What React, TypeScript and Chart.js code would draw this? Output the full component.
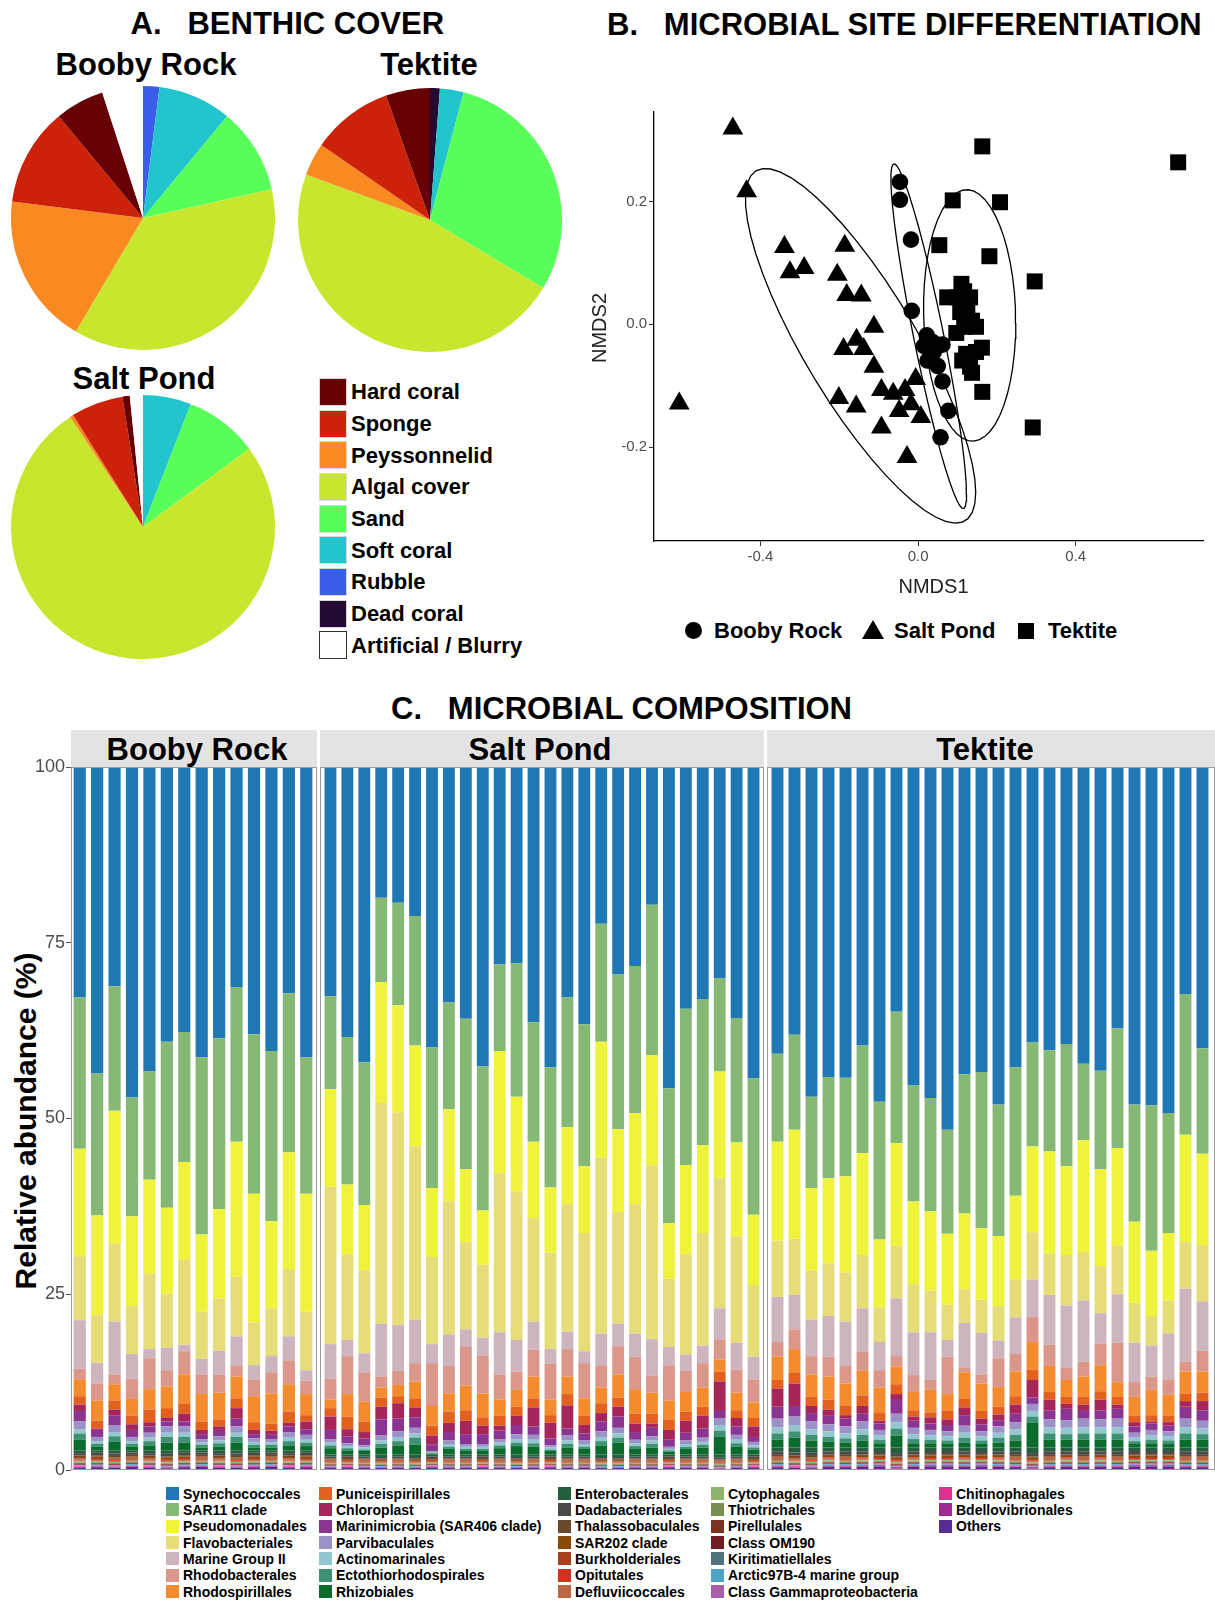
import React, { useEffect, useRef } from 'react';
import { Chart, registerables } from 'chart.js';

Chart.register(...registerables);

const FONT = '"Liberation Sans", Arial, Helvetica, sans-serif';
Chart.defaults.font.family = FONT;

// ---------------- Panel A : benthic cover ----------------
const benthicLegend = ['Hard coral', 'Sponge', 'Peyssonnelid', 'Algal cover', 'Sand', 'Soft coral', 'Rubble', 'Dead coral', 'Artificial / Blurry'];
const benthicColors = ['#660004', '#CC220A', '#F98A22', '#C8E62D', '#58FF58', '#22C5CC', '#395FEA', '#220A30', '#FFFFFF'];
// slice order, clockwise from 12 o'clock
const pieSliceOrder = ['Dead coral', 'Rubble', 'Soft coral', 'Sand', 'Algal cover', 'Peyssonnelid', 'Sponge', 'Hard coral', 'Artificial / Blurry'];
const boobyRockCover = [0, 2, 9, 10.5, 37, 18.5, 12, 6, 5];
const tektiteCover = [1.2, 0, 2.9, 29.5, 47, 4, 10, 5.4, 0];
const saltPondCover = [0, 0, 5.9, 9, 75.8, 0.4, 6.4, 0.9, 1.6];

// ---------------- Panel B : NMDS ----------------
const boobyRockNMDS = [
  [-0.046, 0.232], [-0.046, 0.203], [-0.018, 0.138], [-0.016, 0.022], [0.022, -0.018], [0.037, -0.029], [0.062, -0.033],
  [0.024, -0.059], [0.05, -0.068], [0.062, -0.093], [0.077, -0.141], [0.057, -0.184], [0.04, -0.045], [0.015, -0.035],
];
const saltPondNMDS = [
  [-0.47, 0.319], [-0.435, 0.217], [-0.606, -0.129], [-0.339, 0.126], [-0.325, 0.085], [-0.289, 0.092], [-0.186, 0.128],
  [-0.205, 0.081], [-0.181, 0.048], [-0.144, 0.047], [-0.112, -0.004], [-0.156, -0.025], [-0.189, -0.04], [-0.138, -0.04],
  [-0.112, -0.069], [-0.093, -0.107], [-0.063, -0.113], [-0.033, -0.107], [-0.006, -0.089], [-0.201, -0.12], [-0.157, -0.134],
  [-0.048, -0.141], [-0.018, -0.13], [0.007, -0.151], [-0.093, -0.168], [-0.028, -0.216],
];
const tektiteNMDS = [
  [0.163, 0.29], [0.66, 0.264], [0.088, 0.202], [0.208, 0.199], [0.054, 0.129], [0.181, 0.111], [0.296, 0.07],
  [0.11, 0.066], [0.074, 0.044], [0.102, 0.044], [0.132, 0.044], [0.117, 0.054], [0.107, 0.02], [0.137, 0.006],
  [0.147, -0.004], [0.117, -0.004], [0.097, -0.014], [0.162, -0.038], [0.122, -0.048], [0.147, -0.045], [0.112, -0.059],
  [0.132, -0.069], [0.137, -0.079], [0.163, -0.11], [0.291, -0.168], [0.125, 0.025],
];
const nmds1Ticks = [-0.4, 0, 0.4];
const nmds2Ticks = [-0.2, 0, 0.2];

// ---------------- Panel C : microbial composition ----------------
const facetNames = ['Booby Rock', 'Salt Pond', 'Tektite'];
const facetSizes = [14, 26, 26];
const abundanceTicks = [0, 25, 50, 75, 100];

const seriesNames = [
  'Synechococcales', 'SAR11 clade', 'Pseudomonadales', 'Flavobacteriales', 'Marine Group II', 'Rhodobacterales', 'Rhodospirillales',
  'Puniceispirillales', 'Chloroplast', 'Marinimicrobia (SAR406 clade)', 'Parvibaculales', 'Actinomarinales', 'Ectothiorhodospirales', 'Rhizobiales',
  'Enterobacterales', 'Dadabacteriales', 'Thalassobaculales', 'SAR202 clade', 'Burkholderiales', 'Opitutales', 'Defluviicoccales',
  'Cytophagales', 'Thiotrichales', 'Pirellulales', 'Class OM190', 'Kiritimatiellales', 'Arctic97B-4 marine group', 'Class Gammaproteobacteria',
  'Chitinophagales', 'Bdellovibrionales', 'Others',
];
const seriesColors = [
  '#1F78B4', '#86B875', '#F0F33C', '#E6DC78', '#CDB4BE', '#DA978A', '#F48B2F',
  '#E2611F', '#A7265A', '#8B3592', '#9D92C8', '#93C6CF', '#3E9273', '#0A6B2C',
  '#245E3D', '#4A4A4A', '#6A4A2B', '#8A4A0A', '#A8411B', '#D13322', '#BD6642',
  '#8EB46B', '#77904F', '#7B3222', '#701C22', '#4F737D', '#4DA3C1', '#A65DAA',
  '#E22F8E', '#A1298F', '#582D92',
];

// values per sample: 14 Booby Rock, 26 Salt Pond, 26 Tektite
const synechococcales = [
  32.8, 43.6, 31.2, 47.0, 43.3, 39.1, 37.7, 41.3, 38.6, 31.3, 38.0, 40.4, 32.2, 41.3,
  32.6, 38.4, 42.0, 18.6, 19.3, 21.2, 39.9, 33.5, 35.8, 42.6, 28.1, 27.9, 36.3, 42.7, 32.8, 36.6, 22.3, 29.5, 28.3, 19.6, 45.7, 34.4, 33.0, 30.1, 35.8, 44.3,
  40.8, 38.1, 46.9, 44.1, 44.2, 39.6, 47.6, 34.8, 45.3, 47.1, 51.6, 43.7, 43.4, 48.0, 42.7, 39.2, 40.3, 39.4, 42.2, 43.2, 37.2, 48.0, 48.1, 49.2, 32.3, 40.0,
];
const sar11 = [
  21.5, 20.2, 17.7, 16.9, 15.4, 23.6, 18.5, 25.2, 24.3, 22.0, 22.7, 24.2, 22.6, 19.4,
  13.2, 21.0, 20.3, 12.0, 14.6, 18.4, 20.0, 15.2, 21.4, 20.5, 12.3, 19.0, 17.0, 17.1, 18.4, 20.2, 16.8, 22.0, 20.9, 21.4, 19.2, 22.2, 20.8, 13.2, 17.7, 19.4,
  12.5, 13.5, 13.0, 14.4, 14.0, 15.3, 19.6, 18.7, 16.5, 16.1, 14.8, 19.8, 22.2, 18.7, 18.3, 14.8, 14.4, 17.4, 10.9, 14.0, 17.0, 16.7, 20.7, 17.1, 20.0, 15.0,
];
const pseudomonadales = [
  15.3, 14.2, 18.9, 12.8, 13.4, 12.2, 13.9, 11.0, 12.7, 19.2, 18.3, 12.4, 16.6, 16.8,
  13.9, 9.9, 9.3, 17.2, 15.2, 14.4, 9.8, 13.1, 10.4, 7.7, 17.4, 13.5, 10.9, 9.3, 11.0, 9.5, 16.5, 11.8, 13.0, 15.7, 7.9, 12.7, 12.5, 15.2, 13.4, 10.0,
  14.1, 15.5, 11.7, 12.1, 13.7, 14.5, 9.7, 14.6, 11.8, 11.3, 10.1, 10.8, 10.2, 10.0, 11.9, 12.2, 14.5, 12.6, 15.9, 13.8, 13.9, 11.5, 9.3, 9.6, 15.3, 13.0,
];
const flavobacteriales = [
  9.1, 6.8, 11.1, 6.8, 10.7, 7.7, 12.1, 6.7, 7.4, 8.5, 6.1, 6.8, 9.6, 8.3,
  22.4, 12.2, 11.8, 31.4, 30.3, 24.6, 12.4, 18.9, 12.4, 10.4, 22.6, 21.1, 14.7, 13.7, 18.1, 16.8, 25.0, 15.9, 18.4, 24.7, 9.7, 14.3, 16.0, 18.5, 15.1, 10.2,
  8.0, 8.0, 7.0, 7.5, 7.0, 7.6, 4.9, 7.5, 6.8, 5.9, 5.0, 4.8, 4.7, 4.9, 5.4, 6.7, 5.9, 7.2, 6.9, 6.7, 6.9, 5.7, 4.2, 4.7, 6.6, 8.0,
];
const marineGroupII = [
  6.9, 2.9, 7.5, 3.5, 1.3, 3.2, 0.9, 2.2, 3.4, 4.2, 2.0, 2.3, 3.4, 1.5,
  4.9, 2.3, 2.8, 7.5, 6.5, 6.2, 2.7, 4.5, 2.4, 2.5, 6.0, 4.5, 4.0, 2.1, 2.5, 1.7, 4.5, 3.2, 3.3, 5.2, 2.6, 2.3, 2.5, 4.5, 3.8, 3.2,
  6.4, 4.9, 5.2, 5.8, 6.3, 6.2, 4.0, 8.2, 6.1, 6.8, 2.4, 6.3, 5.9, 2.5, 5.2, 5.3, 7.1, 8.8, 8.7, 4.3, 6.9, 5.6, 4.4, 6.5, 10.4, 7.0,
];
const rhodobacterales = [
  1.5, 2.4, 1.4, 2.9, 4.4, 2.3, 3.3, 2.8, 2.6, 1.5, 2.4, 3.0, 3.4, 1.9,
  3.0, 5.4, 4.1, 1.6, 2.0, 2.6, 6.1, 3.9, 5.6, 5.4, 3.6, 2.6, 3.8, 5.1, 3.9, 5.0, 3.2, 4.0, 4.6, 2.4, 5.0, 3.0, 3.5, 2.8, 3.3, 3.3,
  2.1, 2.8, 2.6, 2.8, 2.5, 2.7, 2.5, 1.5, 2.4, 1.4, 5.3, 0.7, 1.3, 4.1, 2.5, 3.6, 3.0, 1.8, 2.1, 3.1, 5.6, 2.1, 1.9, 2.2, 1.4, 3.0,
];
const rhodospirillales = [
  2.4, 2.9, 2.3, 2.4, 2.9, 3.1, 4.2, 3.9, 3.8, 3.1, 3.7, 4.3, 3.9, 3.0,
  1.2, 3.2, 2.8, 1.4, 1.6, 2.4, 2.8, 2.6, 3.5, 3.4, 2.3, 2.4, 3.1, 2.2, 2.5, 2.5, 2.2, 3.3, 3.5, 3.0, 2.7, 2.8, 2.7, 1.7, 2.5, 2.2,
  3.3, 3.4, 3.2, 3.3, 3.2, 3.5, 3.6, 2.5, 2.6, 3.2, 2.4, 3.8, 3.9, 2.8, 3.5, 3.9, 3.7, 2.4, 2.9, 3.7, 2.1, 2.7, 3.6, 3.0, 3.1, 3.0,
];
const puniceispirillales = [
  1.2, 1.1, 1.3, 1.2, 1.8, 1.3, 1.4, 1.2, 1.0, 1.4, 1.1, 1.0, 1.6, 0.9,
  1.2, 1.8, 1.5, 1.3, 1.0, 1.3, 1.4, 1.6, 1.5, 1.2, 1.4, 1.3, 1.3, 1.1, 1.6, 1.3, 1.4, 1.3, 1.4, 1.4, 1.5, 1.3, 1.3, 1.4, 1.1, 1.2,
  1.2, 1.5, 1.3, 1.4, 1.3, 1.5, 1.1, 1.4, 0.9, 0.7, 1.2, 1.2, 1.1, 1.1, 1.2, 1.5, 1.1, 1.0, 1.1, 1.2, 1.1, 0.9, 0.9, 0.9, 1.1, 1.2,
];
const chloroplast = [
  0.9, 0.2, 0.8, 0.8, 0.6, 0.6, 1.1, 0.6, 0.5, 1.5, 0.6, 0.6, 0.5, 1.1,
  1.9, 1.0, 0.9, 1.8, 2.2, 1.4, 1.3, 1.3, 1.9, 1.3, 0.7, 1.3, 2.7, 2.2, 3.3, 1.2, 1.2, 1.4, 1.2, 0.6, 1.4, 1.7, 1.8, 4.2, 1.2, 1.5,
  2.6, 3.2, 1.0, 0.9, 0.5, 1.1, 0.4, 0.7, 0.6, 0.9, 0.8, 1.1, 0.8, 0.9, 1.3, 2.5, 1.5, 0.7, 0.9, 1.5, 0.6, 0.6, 0.3, 0.5, 0.8, 1.3,
];
const marinimicrobia = [
  1.5, 1.0, 1.4, 1.0, 0.9, 0.7, 0.7, 0.7, 0.9, 1.1, 0.6, 0.6, 0.8, 0.8,
  1.3, 1.0, 1.0, 2.3, 1.8, 1.5, 0.9, 1.2, 1.4, 1.3, 1.2, 1.3, 1.2, 1.0, 1.0, 1.0, 1.4, 1.6, 1.1, 1.2, 1.0, 1.1, 1.3, 1.0, 1.2, 0.7,
  1.7, 1.5, 1.2, 1.2, 1.1, 1.1, 0.9, 2.1, 1.0, 0.9, 0.9, 1.5, 1.0, 0.8, 1.2, 0.9, 1.3, 1.6, 1.1, 1.3, 1.4, 0.9, 0.9, 0.8, 1.7, 1.5,
];
const parvibaculales = [
  1.1, 0.6, 1.0, 0.6, 0.7, 0.9, 0.9, 0.5, 0.6, 0.9, 0.5, 0.5, 0.8, 0.7,
  0.5, 0.4, 0.3, 0.7, 0.8, 0.8, 0.15, 0.5, 0.4, 0.4, 0.5, 0.7, 0.7, 0.3, 0.7, 0.5, 0.8, 0.8, 0.5, 0.6, 0.3, 0.5, 0.6, 1.0, 0.7, 0.5,
  1.2, 1.2, 1.1, 1.0, 1.0, 1.1, 0.8, 1.2, 0.9, 0.8, 0.7, 1.0, 0.7, 0.9, 1.0, 1.0, 1.1, 1.1, 1.2, 1.1, 1.2, 0.7, 0.8, 0.7, 1.2, 1.1,
];
const actinomarinales = [
  0.6, 0.4, 0.6, 0.4, 0.5, 0.6, 0.6, 0.3, 0.4, 0.6, 0.4, 0.3, 0.5, 0.4,
  0.4, 0.3, 0.3, 0.5, 0.6, 0.6, 0.1, 0.4, 0.3, 0.3, 0.4, 0.5, 0.5, 0.3, 0.5, 0.4, 0.6, 0.6, 0.4, 0.5, 0.2, 0.4, 0.4, 0.8, 0.5, 0.3,
  0.9, 0.9, 0.8, 0.8, 0.7, 0.8, 0.6, 0.9, 0.7, 0.6, 0.6, 0.7, 0.6, 0.7, 0.8, 0.8, 0.9, 0.9, 0.9, 0.9, 0.9, 0.5, 0.6, 0.6, 0.9, 0.8,
];
const ectothiorhodospirales = [
  0.9, 0.4, 0.8, 0.4, 0.6, 0.8, 0.8, 0.4, 0.5, 0.8, 0.4, 0.4, 0.6, 0.5,
  0.4, 0.3, 0.2, 0.5, 0.6, 1.0, 0.1, 0.3, 0.3, 0.3, 0.4, 0.5, 0.5, 0.2, 0.5, 0.3, 0.6, 0.7, 0.4, 0.5, 0.2, 0.3, 0.4, 0.9, 0.5, 0.3,
  0.9, 0.9, 0.8, 0.7, 0.6, 0.8, 0.5, 1.0, 0.6, 0.5, 0.5, 0.7, 0.5, 0.7, 0.8, 0.9, 0.9, 0.8, 0.9, 0.9, 0.9, 0.4, 0.5, 0.5, 0.9, 0.8,
];
const rhizobiales = [
  1.5, 0.5, 1.2, 0.5, 0.7, 1.1, 1.1, 0.4, 0.5, 1.1, 0.4, 0.4, 0.7, 0.6,
  0.9, 0.6, 0.5, 1.0, 1.3, 1.4, 0.15, 0.8, 0.5, 0.5, 0.9, 1.2, 1.1, 0.5, 1.0, 0.8, 1.3, 1.7, 0.8, 1.0, 0.4, 0.8, 1.0, 2.5, 1.1, 0.7,
  1.1, 1.4, 1.0, 0.8, 0.7, 1.0, 0.6, 1.7, 0.6, 0.6, 0.5, 0.7, 0.5, 0.7, 1.0, 3.5, 1.1, 1.1, 1.1, 1.1, 1.1, 0.5, 0.6, 0.5, 1.1, 1.1,
];
const enterobacterales = [
  0.4, 0.35, 0.45, 0.3, 0.4, 0.5, 0.35, 0.3, 0.4, 0.45, 0.35, 0.3, 0.4, 0.35,
  0.3, 0.25, 0.3, 0.35, 0.3, 0.35, 0.25, 0.3, 0.3, 0.25, 0.3, 0.35, 0.3, 0.25, 0.3, 0.3, 0.35, 0.35, 0.3, 0.3, 0.25, 0.3, 0.3, 0.45, 0.3, 0.25,
  0.6, 0.7, 0.75, 0.55, 0.6, 0.55, 0.5, 0.8, 0.55, 0.5, 0.5, 0.55, 0.5, 0.55, 0.6, 0.8, 0.6, 0.55, 0.6, 0.55, 0.6, 0.5, 0.5, 0.5, 0.6, 0.6,
];
const dadabacteriales = [
  0.35, 0.35, 0.35, 0.35, 0.35, 0.35, 0.35, 0.35, 0.35, 0.35, 0.35, 0.35, 0.35, 0.35,
  0.25, 0.25, 0.25, 0.25, 0.25, 0.25, 0.25, 0.25, 0.25, 0.25, 0.25, 0.25, 0.25, 0.25, 0.25, 0.25, 0.25, 0.25, 0.25, 0.25, 0.25, 0.25, 0.25, 0.25, 0.25, 0.25,
  0.45, 0.45, 0.45, 0.45, 0.45, 0.45, 0.45, 0.45, 0.45, 0.45, 0.45, 0.45, 0.45, 0.45, 0.45, 0.45, 0.45, 0.45, 0.45, 0.45, 0.45, 0.45, 0.45, 0.45, 0.45, 0.45,
];
const thalassobaculales = [
  0.2, 0.2, 0.2, 0.2, 0.2, 0.2, 0.2, 0.2, 0.2, 0.2, 0.2, 0.2, 0.2, 0.2,
  0.15, 0.15, 0.15, 0.15, 0.15, 0.15, 0.15, 0.15, 0.15, 0.15, 0.15, 0.15, 0.15, 0.15, 0.15, 0.15, 0.15, 0.15, 0.15, 0.15, 0.15, 0.15, 0.15, 0.15, 0.15, 0.15,
  0.2, 0.2, 0.2, 0.2, 0.2, 0.2, 0.2, 0.2, 0.2, 0.2, 0.2, 0.2, 0.2, 0.2, 0.2, 0.2, 0.2, 0.2, 0.2, 0.2, 0.2, 0.2, 0.2, 0.2, 0.2, 0.2,
];
const sar202 = [
  0.2, 0.2, 0.2, 0.2, 0.2, 0.2, 0.2, 0.2, 0.2, 0.2, 0.2, 0.2, 0.2, 0.2,
  0.15, 0.15, 0.15, 0.15, 0.15, 0.15, 0.15, 0.15, 0.15, 0.15, 0.15, 0.15, 0.15, 0.15, 0.15, 0.15, 0.15, 0.15, 0.15, 0.15, 0.15, 0.15, 0.15, 0.15, 0.15, 0.15,
  0.2, 0.2, 0.2, 0.2, 0.2, 0.2, 0.2, 0.2, 0.2, 0.2, 0.2, 0.2, 0.2, 0.2, 0.2, 0.2, 0.2, 0.2, 0.2, 0.2, 0.2, 0.2, 0.2, 0.2, 0.2, 0.2,
];
const burkholderiales = [
  0.15, 0.15, 0.15, 0.15, 0.15, 0.15, 0.15, 0.15, 0.15, 0.15, 0.15, 0.15, 0.15, 0.15,
  0.12, 0.12, 0.12, 0.12, 0.12, 0.12, 0.12, 0.12, 0.12, 0.12, 0.12, 0.12, 0.12, 0.12, 0.12, 0.12, 0.12, 0.12, 0.12, 0.12, 0.12, 0.12, 0.12, 0.12, 0.12, 0.12,
  0.15, 0.15, 0.15, 0.15, 0.15, 0.15, 0.15, 0.15, 0.15, 0.15, 0.15, 0.15, 0.15, 0.15, 0.15, 0.15, 0.15, 0.15, 0.15, 0.15, 0.15, 0.15, 0.15, 0.15, 0.15, 0.15,
];
const opitutales = [
  0.15, 0.15, 0.15, 0.15, 0.15, 0.15, 0.15, 0.15, 0.15, 0.15, 0.15, 0.15, 0.15, 0.15,
  0.12, 0.12, 0.12, 0.12, 0.12, 0.12, 0.12, 0.12, 0.12, 0.12, 0.12, 0.12, 0.12, 0.12, 0.12, 0.12, 0.12, 0.12, 0.12, 0.12, 0.12, 0.12, 0.12, 0.12, 0.12, 0.12,
  0.15, 0.15, 0.15, 0.15, 0.15, 0.15, 0.15, 0.15, 0.15, 0.15, 0.15, 0.15, 0.15, 0.15, 0.15, 0.15, 0.15, 0.15, 0.15, 0.15, 0.15, 0.15, 0.15, 0.15, 0.15, 0.15,
];
const defluviicoccales = [
  0.15, 0.15, 0.15, 0.15, 0.15, 0.15, 0.15, 0.15, 0.15, 0.15, 0.15, 0.15, 0.15, 0.15,
  0.12, 0.12, 0.12, 0.12, 0.12, 0.12, 0.12, 0.12, 0.12, 0.12, 0.12, 0.12, 0.12, 0.12, 0.12, 0.12, 0.12, 0.12, 0.12, 0.12, 0.12, 0.12, 0.12, 0.12, 0.12, 0.12,
  0.15, 0.15, 0.15, 0.15, 0.15, 0.15, 0.15, 0.15, 0.15, 0.15, 0.15, 0.15, 0.15, 0.15, 0.15, 0.15, 0.15, 0.15, 0.15, 0.15, 0.15, 0.15, 0.15, 0.15, 0.15, 0.15,
];
const cytophagales = [
  0.15, 0.15, 0.15, 0.15, 0.15, 0.15, 0.15, 0.15, 0.15, 0.15, 0.15, 0.15, 0.15, 0.15,
  0.12, 0.12, 0.12, 0.12, 0.12, 0.12, 0.12, 0.12, 0.12, 0.12, 0.12, 0.12, 0.12, 0.12, 0.12, 0.12, 0.12, 0.12, 0.12, 0.12, 0.12, 0.12, 0.12, 0.12, 0.12, 0.12,
  0.15, 0.15, 0.15, 0.15, 0.15, 0.15, 0.15, 0.15, 0.15, 0.15, 0.15, 0.15, 0.15, 0.15, 0.15, 0.15, 0.15, 0.15, 0.15, 0.15, 0.15, 0.15, 0.15, 0.15, 0.15, 0.15,
];
const thiotrichales = [
  0.1, 0.1, 0.1, 0.1, 0.1, 0.1, 0.1, 0.1, 0.1, 0.1, 0.1, 0.1, 0.1, 0.1,
  0.08, 0.08, 0.08, 0.08, 0.08, 0.08, 0.08, 0.08, 0.08, 0.08, 0.08, 0.08, 0.08, 0.08, 0.08, 0.08, 0.08, 0.08, 0.08, 0.08, 0.08, 0.08, 0.08, 0.08, 0.08, 0.08,
  0.1, 0.1, 0.1, 0.1, 0.1, 0.1, 0.1, 0.1, 0.1, 0.1, 0.1, 0.1, 0.1, 0.1, 0.1, 0.1, 0.1, 0.1, 0.1, 0.1, 0.1, 0.1, 0.1, 0.1, 0.1, 0.1,
];
const pirellulales = [
  0.1, 0.1, 0.1, 0.1, 0.1, 0.1, 0.1, 0.1, 0.1, 0.1, 0.1, 0.1, 0.1, 0.1,
  0.08, 0.08, 0.08, 0.08, 0.08, 0.08, 0.08, 0.08, 0.08, 0.08, 0.08, 0.08, 0.08, 0.08, 0.08, 0.08, 0.08, 0.08, 0.08, 0.08, 0.08, 0.08, 0.08, 0.08, 0.08, 0.08,
  0.1, 0.1, 0.1, 0.1, 0.1, 0.1, 0.1, 0.1, 0.1, 0.1, 0.1, 0.1, 0.1, 0.1, 0.1, 0.1, 0.1, 0.1, 0.1, 0.1, 0.1, 0.1, 0.1, 0.1, 0.1, 0.1,
];
const classOM190 = [
  0.1, 0.1, 0.1, 0.1, 0.1, 0.1, 0.1, 0.1, 0.1, 0.1, 0.1, 0.1, 0.1, 0.1,
  0.08, 0.08, 0.08, 0.08, 0.08, 0.08, 0.08, 0.08, 0.08, 0.08, 0.08, 0.08, 0.08, 0.08, 0.08, 0.08, 0.08, 0.08, 0.08, 0.08, 0.08, 0.08, 0.08, 0.08, 0.08, 0.08,
  0.1, 0.1, 0.1, 0.1, 0.1, 0.1, 0.1, 0.1, 0.1, 0.1, 0.1, 0.1, 0.1, 0.1, 0.1, 0.1, 0.1, 0.1, 0.1, 0.1, 0.1, 0.1, 0.1, 0.1, 0.1, 0.1,
];
const kiritimatiellales = [
  0.08, 0.08, 0.08, 0.08, 0.08, 0.08, 0.08, 0.08, 0.08, 0.08, 0.08, 0.08, 0.08, 0.08,
  0.06, 0.06, 0.06, 0.06, 0.06, 0.06, 0.06, 0.06, 0.06, 0.06, 0.06, 0.06, 0.06, 0.06, 0.06, 0.06, 0.06, 0.06, 0.06, 0.06, 0.06, 0.06, 0.06, 0.06, 0.06, 0.06,
  0.08, 0.08, 0.08, 0.08, 0.08, 0.08, 0.08, 0.08, 0.08, 0.08, 0.08, 0.08, 0.08, 0.08, 0.08, 0.08, 0.08, 0.08, 0.08, 0.08, 0.08, 0.08, 0.08, 0.08, 0.08, 0.08,
];
const arctic97B4 = [
  0.08, 0.08, 0.08, 0.08, 0.08, 0.08, 0.08, 0.08, 0.08, 0.08, 0.08, 0.08, 0.08, 0.08,
  0.06, 0.06, 0.06, 0.06, 0.06, 0.06, 0.06, 0.06, 0.06, 0.06, 0.06, 0.06, 0.06, 0.06, 0.06, 0.06, 0.06, 0.06, 0.06, 0.06, 0.06, 0.06, 0.06, 0.06, 0.06, 0.06,
  0.08, 0.08, 0.08, 0.08, 0.08, 0.08, 0.08, 0.08, 0.08, 0.08, 0.08, 0.08, 0.08, 0.08, 0.08, 0.08, 0.08, 0.08, 0.08, 0.08, 0.08, 0.08, 0.08, 0.08, 0.08, 0.08,
];
const gammaproteobacteria = [
  0.08, 0.08, 0.08, 0.08, 0.08, 0.08, 0.08, 0.08, 0.08, 0.08, 0.08, 0.08, 0.08, 0.08,
  0.06, 0.06, 0.06, 0.06, 0.06, 0.06, 0.06, 0.06, 0.06, 0.06, 0.06, 0.06, 0.06, 0.06, 0.06, 0.06, 0.06, 0.06, 0.06, 0.06, 0.06, 0.06, 0.06, 0.06, 0.06, 0.06,
  0.08, 0.08, 0.08, 0.08, 0.08, 0.08, 0.08, 0.08, 0.08, 0.08, 0.08, 0.08, 0.08, 0.08, 0.08, 0.08, 0.08, 0.08, 0.08, 0.08, 0.08, 0.08, 0.08, 0.08, 0.08, 0.08,
];
const chitinophagales = [
  0.08, 0.08, 0.08, 0.08, 0.08, 0.08, 0.08, 0.08, 0.08, 0.08, 0.08, 0.08, 0.08, 0.08,
  0.06, 0.06, 0.06, 0.06, 0.06, 0.06, 0.06, 0.06, 0.06, 0.06, 0.06, 0.06, 0.06, 0.06, 0.06, 0.06, 0.06, 0.06, 0.06, 0.06, 0.06, 0.06, 0.06, 0.06, 0.06, 0.06,
  0.12, 0.12, 0.12, 0.12, 0.12, 0.12, 0.12, 0.12, 0.12, 0.12, 0.12, 0.12, 0.12, 0.12, 0.12, 0.12, 0.12, 0.12, 0.12, 0.12, 0.12, 0.12, 0.12, 0.12, 0.12, 0.12,
];
const bdellovibrionales = [
  0.08, 0.08, 0.08, 0.08, 0.08, 0.08, 0.08, 0.08, 0.08, 0.08, 0.08, 0.08, 0.08, 0.08,
  0.06, 0.06, 0.06, 0.06, 0.06, 0.06, 0.06, 0.06, 0.06, 0.06, 0.06, 0.06, 0.06, 0.06, 0.06, 0.06, 0.06, 0.06, 0.06, 0.06, 0.06, 0.06, 0.06, 0.06, 0.06, 0.06,
  0.08, 0.08, 0.08, 0.08, 0.08, 0.08, 0.08, 0.08, 0.08, 0.08, 0.08, 0.08, 0.08, 0.08, 0.08, 0.08, 0.08, 0.08, 0.08, 0.08, 0.08, 0.08, 0.08, 0.08, 0.08, 0.08,
];
const others = [
  0.35, 0.4, 0.3, 0.45, 0.35, 0.25, 0.4, 0.45, 0.35, 0.3, 0.4, 0.45, 0.35, 0.4,
  0.33, 0.38, 0.33, 0.28, 0.33, 0.28, 0.38, 0.33, 0.33, 0.38, 0.33, 0.28, 0.33, 0.38, 0.33, 0.33, 0.28, 0.28, 0.33, 0.33, 0.38, 0.33, 0.33, 0.18, 0.33, 0.38,
  0.41, 0.31, 0.26, 0.46, 0.41, 0.46, 0.51, 0.21, 0.46, 0.51, 0.51, 0.46, 0.51, 0.46, 0.41, 0.21, 0.41, 0.46, 0.41, 0.46, 0.41, 0.51, 0.51, 0.51, 0.41, 0.41,
];

const seriesValues = [
  synechococcales, sar11, pseudomonadales, flavobacteriales, marineGroupII, rhodobacterales, rhodospirillales,
  puniceispirillales, chloroplast, marinimicrobia, parvibaculales, actinomarinales, ectothiorhodospirales, rhizobiales,
  enterobacterales, dadabacteriales, thalassobaculales, sar202, burkholderiales, opitutales, defluviicoccales,
  cytophagales, thiotrichales, pirellulales, classOM190, kiritimatiellales, arctic97B4, gammaproteobacteria,
  chitinophagales, bdellovibrionales, others,
];

// ---------------- helpers ----------------
function covTrob(pts: number[][]) {
  const nu = 5, p = 2, n = pts.length;
  let w = pts.map(() => 1);
  let loc = [pts.reduce((s, q) => s + q[0], 0) / n, pts.reduce((s, q) => s + q[1], 0) / n];
  let X = pts.map((q) => [q[0] - loc[0], q[1] - loc[1]]);
  for (let iter = 0; iter < 25; iter++) {
    const w0 = w.slice();
    X = pts.map((q) => [q[0] - loc[0], q[1] - loc[1]]);
    const sw = w.reduce((s, v) => s + v, 0);
    let a = 0, b = 0, c = 0;
    X.forEach((d, i) => { a += w[i] * d[0] * d[0]; b += w[i] * d[0] * d[1]; c += w[i] * d[1] * d[1]; });
    a /= sw; b /= sw; c /= sw;
    const det = a * c - b * b;
    const Q = X.map((d) => (c * d[0] * d[0] - 2 * b * d[0] * d[1] + a * d[1] * d[1]) / det);
    w = Q.map((q) => (nu + p) / (nu + q));
    const sw2 = w.reduce((s, v) => s + v, 0);
    loc = [pts.reduce((s, q, i) => s + w[i] * q[0], 0) / sw2, pts.reduce((s, q, i) => s + w[i] * q[1], 0) / sw2];
    if (w.every((v, i) => Math.abs(v - w0[i]) < 0.01)) break;
  }
  let s11 = 0, s12 = 0, s22 = 0;
  X.forEach((d, i) => { s11 += w[i] * d[0] * d[0]; s12 += w[i] * d[0] * d[1]; s22 += w[i] * d[1] * d[1]; });
  return { center: loc, cov: [s11 / n, s12 / n, s22 / n] };
}

function ellipsePath(pts: number[][]) {
  const { center, cov } = covTrob(pts);
  const dfd = pts.length - 1;
  const F = (dfd / 2) * (Math.pow(0.05, -2 / dfd) - 1);
  const r = Math.sqrt(2 * F);
  const r11 = Math.sqrt(cov[0]);
  const r12 = cov[1] / r11;
  const r22 = Math.sqrt(Math.max(cov[2] - r12 * r12, 0));
  const out: { x: number; y: number }[] = [];
  for (let k = 0; k <= 51; k++) {
    const t = (2 * Math.PI * k) / 51;
    const ct = Math.cos(t), st = Math.sin(t);
    out.push({ x: center[0] + r * ct * r11, y: center[1] + r * (ct * r12 + st * r22) });
  }
  return out;
}

function Label(props: { x: number; y: number; size: number; bold?: boolean; align?: string; color?: string; rotate?: boolean; children: any }) {
  const { x, y, size, bold, align, color, rotate, children } = props;
  const style: any = {
    position: 'absolute',
    left: x,
    top: rotate ? y - size / 2 : y - 0.8465 * size,
    fontFamily: FONT,
    fontSize: size,
    fontWeight: bold ? 700 : 400,
    lineHeight: `${size}px`,
    color: color || '#000',
    whiteSpace: 'pre',
  };
  if (rotate) style.transform = 'translate(-50%, 0) rotate(-90deg)';
  else if (align === 'center') style.transform = 'translateX(-50%)';
  return <div style={style}>{children}</div>;
}

const benthicColorOf = (name: string) => benthicColors[benthicLegend.indexOf(name)];

// ---------------- layout constants ----------------
const pieBoxes = [
  { left: 11, top: 86, data: boobyRockCover },
  { left: 298, top: 88, data: tektiteCover },
  { left: 11, top: 395, data: saltPondCover },
];
const PIE = 264;
const facetBoxes = [
  { canvasLeft: 0, canvasWidth: 317, panelLeft: 71, panelWidth: 246, labelX: 197 },
  { canvasLeft: 320, canvasWidth: 444, panelLeft: 320, panelWidth: 444, labelX: 540 },
  { canvasLeft: 767, canvasWidth: 446, panelLeft: 767, panelWidth: 448, labelX: 985 },
];
const legendColLeft = [166, 319, 558, 711, 939];

export default function App() {
  const pieRefs = [useRef<HTMLCanvasElement>(null), useRef<HTMLCanvasElement>(null), useRef<HTMLCanvasElement>(null)];
  const nmdsRef = useRef<HTMLCanvasElement>(null);
  const barRefs = [useRef<HTMLCanvasElement>(null), useRef<HTMLCanvasElement>(null), useRef<HTMLCanvasElement>(null)];

  useEffect(() => {
    const charts: Chart[] = [];

    // Pies
    pieBoxes.forEach((pb, i) => {
      const cv = pieRefs[i].current;
      if (!cv) return;
      charts.push(new Chart(cv, {
        type: 'pie',
        data: {
          labels: pieSliceOrder,
          datasets: [{ data: pb.data, backgroundColor: pieSliceOrder.map(benthicColorOf), borderWidth: 0 }],
        },
        options: {
          responsive: false, animation: false, devicePixelRatio: 1,
          layout: { padding: 0 },
          plugins: { legend: { display: false }, tooltip: { enabled: false } },
        },
      }));
    });

    // NMDS scatter
    if (nmdsRef.current) {
      const toXY = (a: number[][]) => a.map((q) => ({ x: q[0], y: q[1] }));
      const ellipseDs = (pts: number[][]) => ({
        data: ellipsePath(pts), showLine: true, pointRadius: 0, borderColor: '#000', borderWidth: 1.3, fill: false, tension: 0,
      });
      charts.push(new Chart(nmdsRef.current, {
        type: 'scatter',
        data: {
          datasets: [
            ellipseDs(boobyRockNMDS) as any,
            ellipseDs(saltPondNMDS) as any,
            ellipseDs(tektiteNMDS) as any,
            { label: 'Booby Rock', data: toXY(boobyRockNMDS), pointStyle: 'circle', pointRadius: 8.3, backgroundColor: '#000', borderWidth: 0 },
            { label: 'Salt Pond', data: toXY(saltPondNMDS), pointStyle: 'triangle', pointRadius: 12, backgroundColor: '#000', borderWidth: 0 },
            { label: 'Tektite', data: toXY(tektiteNMDS), pointStyle: 'rect', pointRadius: 11.3, backgroundColor: '#000', borderWidth: 0 },
          ],
        },
        options: {
          responsive: false, animation: false, devicePixelRatio: 1,
          layout: { padding: { top: 10, right: 0, left: 0, bottom: 0 } },
          plugins: { legend: { display: false }, tooltip: { enabled: false } },
          scales: {
            x: {
              type: 'linear', min: -0.67, max: 0.723,
              afterBuildTicks: (ax: any) => { ax.ticks = nmds1Ticks.map((v) => ({ value: v })); },
              afterFit: (ax: any) => { ax.height = 59; },
              ticks: { font: { size: 15 }, color: '#4D4D4D', padding: 2, callback: (v: any) => Number(v).toFixed(1) },
              grid: { drawOnChartArea: false, drawTicks: true, tickLength: 5, color: '#333' },
              border: { display: true, color: '#000', width: 1.3 },
            },
            y: {
              type: 'linear', min: -0.353, max: 0.346,
              afterBuildTicks: (ax: any) => { ax.ticks = nmds2Ticks.map((v) => ({ value: v })); },
              afterFit: (ax: any) => { ax.width = 54; },
              ticks: { font: { size: 15 }, color: '#4D4D4D', padding: 2, callback: (v: any) => Number(v).toFixed(1) },
              grid: { drawOnChartArea: false, drawTicks: true, tickLength: 5, color: '#333' },
              border: { display: true, color: '#000', width: 1.3 },
            },
          },
        } as any,
      }));
    }

    // Stacked bars per facet
    let start = 0;
    facetSizes.forEach((n, f) => {
      const cv = barRefs[f].current;
      const s0 = start;
      start += n;
      if (!cv) return;
      const labels = Array.from({ length: n }, (_, k) => `${facetNames[f]} ${k + 1}`);
      const datasets = seriesNames.map((name, i) => ({
        label: name,
        data: seriesValues[i].slice(s0, s0 + n),
        backgroundColor: seriesColors[i],
        borderWidth: 0,
        barPercentage: 0.7,
        categoryPercentage: 1,
      })).reverse();
      const yAxis: any = {
        stacked: true, min: 0, max: 100, display: f === 0,
        ticks: { font: { size: 18 }, color: '#4D4D4D', padding: 1 },
        grid: { drawOnChartArea: false, drawTicks: true, tickLength: 5, color: '#555' },
        border: { display: false },
      };
      if (f === 0) {
        yAxis.afterBuildTicks = (ax: any) => { ax.ticks = abundanceTicks.map((v) => ({ value: v })); };
        yAxis.afterFit = (ax: any) => { ax.width = 71; };
      }
      charts.push(new Chart(cv, {
        type: 'bar',
        data: { labels, datasets },
        options: {
          responsive: false, animation: false, devicePixelRatio: 1,
          layout: { padding: { left: f === 0 ? 0 : 2, right: 2, top: 12, bottom: 12 } },
          plugins: { legend: { display: false }, tooltip: { enabled: false } },
          scales: {
            x: { stacked: true, display: false, offset: true },
            y: yAxis,
          },
        } as any,
      }));
    });

    return () => { charts.forEach((c) => c.destroy()); };
  }, []);

  const legendRowY = (r: number) => 1493.6 + r * 16.3;
  const benthicRowY = (r: number) => 391.8 + r * 31.7;

  return (
    <div style={{ position: 'absolute', left: 0, top: 0, width: 1215, height: 1600, background: '#fff', overflow: 'hidden' }}>
      {/* Panel A */}
      <Label x={130.6} y={34} size={31} bold>{'A.   BENTHIC COVER'}</Label>
      <Label x={146} y={75.5} size={31} bold align="center">Booby Rock</Label>
      <Label x={429} y={75.5} size={31} bold align="center">Tektite</Label>
      <Label x={144} y={389} size={31} bold align="center">Salt Pond</Label>
      {pieBoxes.map((pb, i) => (
        <canvas key={'pie' + i} ref={pieRefs[i]} width={PIE} height={PIE} style={{ position: 'absolute', left: pb.left, top: pb.top, width: PIE, height: PIE }} />
      ))}
      {benthicLegend.map((name, r) => (
        <React.Fragment key={'bl' + r}>
          <div style={{
            position: 'absolute', left: 319, top: benthicRowY(r) - 14, width: 28, height: 28, boxSizing: 'border-box',
            background: benthicColors[r], border: name === 'Artificial / Blurry' ? '1.5px solid #333' : '1px solid #d8d8d8',
          }} />
          <Label x={351} y={benthicRowY(r) + 8} size={22} bold>{name}</Label>
        </React.Fragment>
      ))}

      {/* Panel B */}
      <Label x={607} y={35.5} size={31} bold>{'B.   MICROBIAL SITE DIFFERENTIATION'}</Label>
      <canvas ref={nmdsRef} width={615} height={500} style={{ position: 'absolute', left: 600, top: 100, width: 615, height: 500 }} />
      <Label x={933.5} y={593} size={20} align="center" color="#222">NMDS1</Label>
      <Label x={599} y={328} size={20} rotate color="#222">NMDS2</Label>
      <div style={{ position: 'absolute', left: 693 - 8.5, top: 630.5 - 8.5, width: 17, height: 17, borderRadius: '50%', background: '#000' }} />
      <Label x={714} y={638.4} size={22} bold>Booby Rock</Label>
      <div style={{ position: 'absolute', left: 873 - 11, top: 630.5 - 11, width: 0, height: 0, borderLeft: '11px solid transparent', borderRight: '11px solid transparent', borderBottom: '19px solid #000' }} />
      <Label x={894} y={638.4} size={22} bold>Salt Pond</Label>
      <div style={{ position: 'absolute', left: 1026 - 8, top: 630.5 - 8, width: 16, height: 16, background: '#000' }} />
      <Label x={1048} y={638.4} size={22} bold>Tektite</Label>

      {/* Panel C */}
      <Label x={391} y={719.5} size={31} bold>{'C.   MICROBIAL COMPOSITION'}</Label>
      <Label x={25.5} y={1121} size={30} bold rotate>Relative abundance (%)</Label>
      {facetBoxes.map((fb, f) => (
        <React.Fragment key={'fc' + f}>
          <div style={{ position: 'absolute', left: fb.panelLeft, top: 730, width: fb.panelWidth, height: 37, background: '#E3E3E3' }} />
          <Label x={fb.labelX} y={760} size={31} bold align="center">{facetNames[f]}</Label>
          <canvas ref={barRefs[f]} width={fb.canvasWidth} height={727} style={{ position: 'absolute', left: fb.canvasLeft, top: 755, width: fb.canvasWidth, height: 727 }} />
          <div style={{ position: 'absolute', left: fb.panelLeft, top: 767, width: fb.panelWidth, height: 703, boxSizing: 'border-box', border: '1px solid #9A9A9A', pointerEvents: 'none' }} />
        </React.Fragment>
      ))}
      {seriesNames.map((name, i) => {
        const col = Math.floor(i / 7), row = i % 7;
        return (
          <React.Fragment key={'sl' + i}>
            <div style={{ position: 'absolute', left: legendColLeft[col], top: legendRowY(row) - 6.5, width: 13, height: 13, background: seriesColors[i] }} />
            <Label x={legendColLeft[col] + 17} y={legendRowY(row) + 5} size={14} bold>{name}</Label>
          </React.Fragment>
        );
      })}
    </div>
  );
}
